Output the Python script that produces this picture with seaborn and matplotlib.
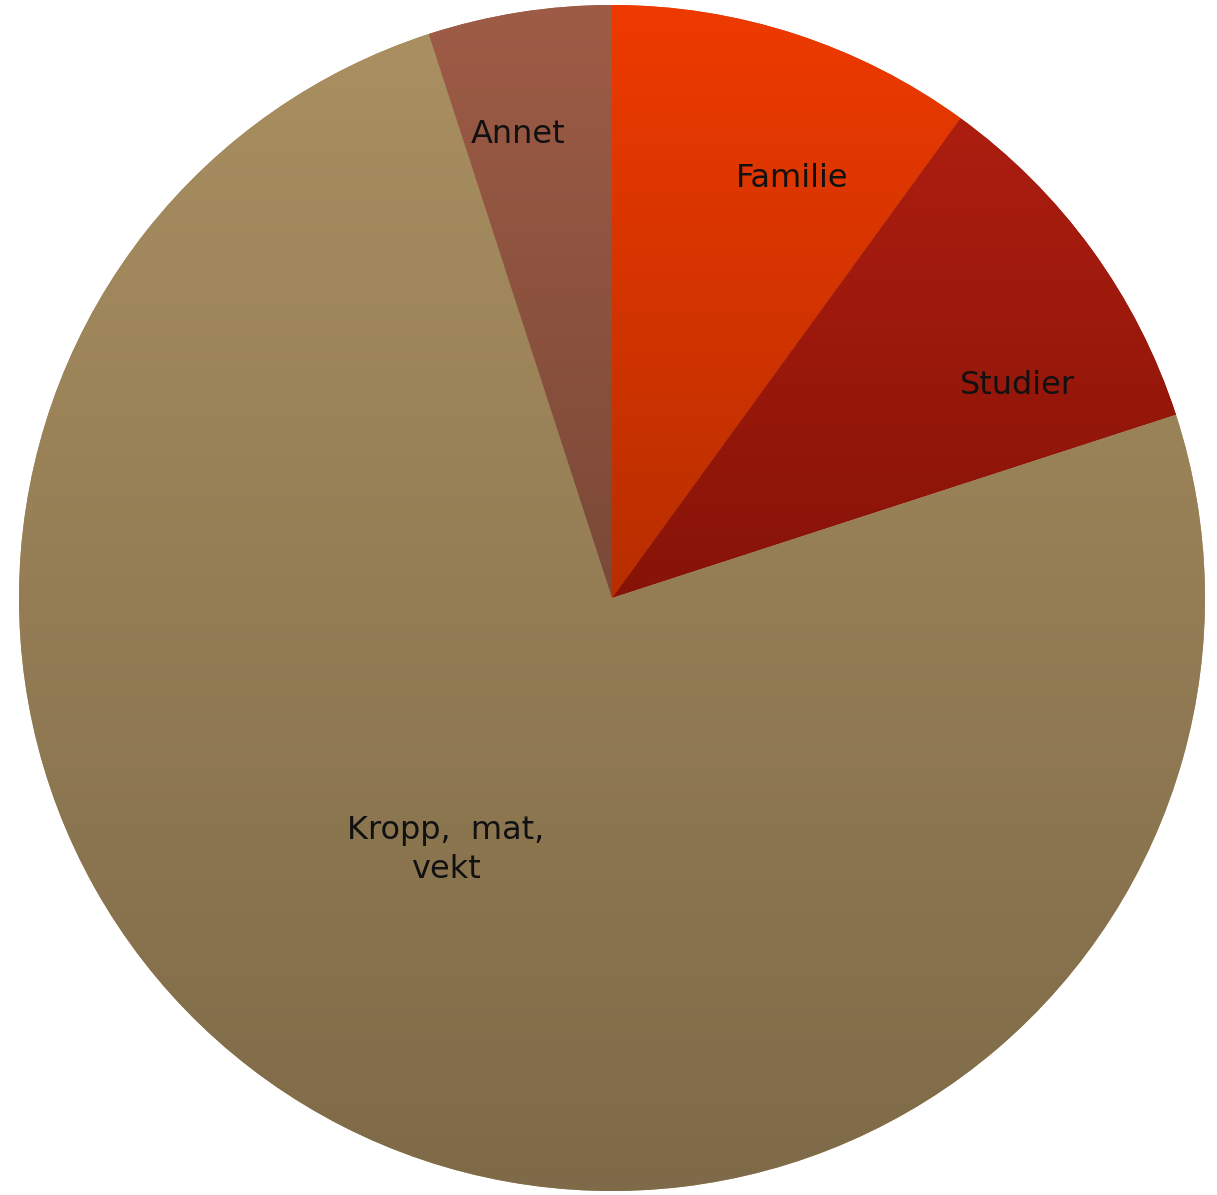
import matplotlib

matplotlib.use("Agg")
import matplotlib.pyplot as plt
import numpy as np
import seaborn as sns
from matplotlib.colors import LinearSegmentedColormap

# data (percent of answers)
categories = ["Familie", "Studier", "Kropp,  mat,\nvekt", "Annet"]
values = [10, 10, 75, 5]

# vertical gradient per slice: (top colour, bottom colour)
top_colors = ["#ee3a00", "#ac1e10", "#a98f61", "#9e5c46"]
bottom_colors = ["#b82e00", "#871307", "#7e6a48", "#7a4937"]

# label anchor points in pixel space (y measured from top)
label_pos = [(792, 178), (1017, 385), (446, 850), (518, 134)]

W, H = 1217, 1195
CENTER = (612, H - 598)
RADIUS = 593

sns.set_theme(style="white")
plt.rcParams["font.family"] = ["DejaVu Sans"]

fig = plt.figure(figsize=(W / 100, H / 100), dpi=100)
ax = fig.add_axes([0, 0, 1, 1])

wedges, _ = ax.pie(
    values,
    startangle=90,
    counterclock=False,
    center=CENTER,
    radius=RADIUS,
    colors=top_colors,
    wedgeprops={"linewidth": 0},
    frame=True,
)

grad = np.linspace(0, 1, 256).reshape(-1, 1)
for wedge, c_top, c_bot in zip(wedges, top_colors, bottom_colors):
    verts = wedge.get_path().vertices
    x0, y0 = verts.min(axis=0)
    x1, y1 = verts.max(axis=0)
    cmap = LinearSegmentedColormap.from_list("g", [c_top, c_bot])
    im = ax.imshow(
        grad,
        cmap=cmap,
        extent=(x0, x1, y0, y1),
        origin="upper",
        aspect="auto",
        zorder=wedge.get_zorder() + 0.1,
        interpolation="bilinear",
    )
    im.set_clip_path(wedge)

for text, (px, py) in zip(categories, label_pos):
    ax.text(
        px,
        H - py,
        text,
        ha="center",
        va="center",
        fontsize=23,
        color="#111111",
        linespacing=1.3,
        zorder=10,
    )

ax.set_xlim(0, W)
ax.set_ylim(0, H)
ax.set_aspect("equal")
ax.axis("off")
fig.savefig("out.png", dpi=100, facecolor="white")
